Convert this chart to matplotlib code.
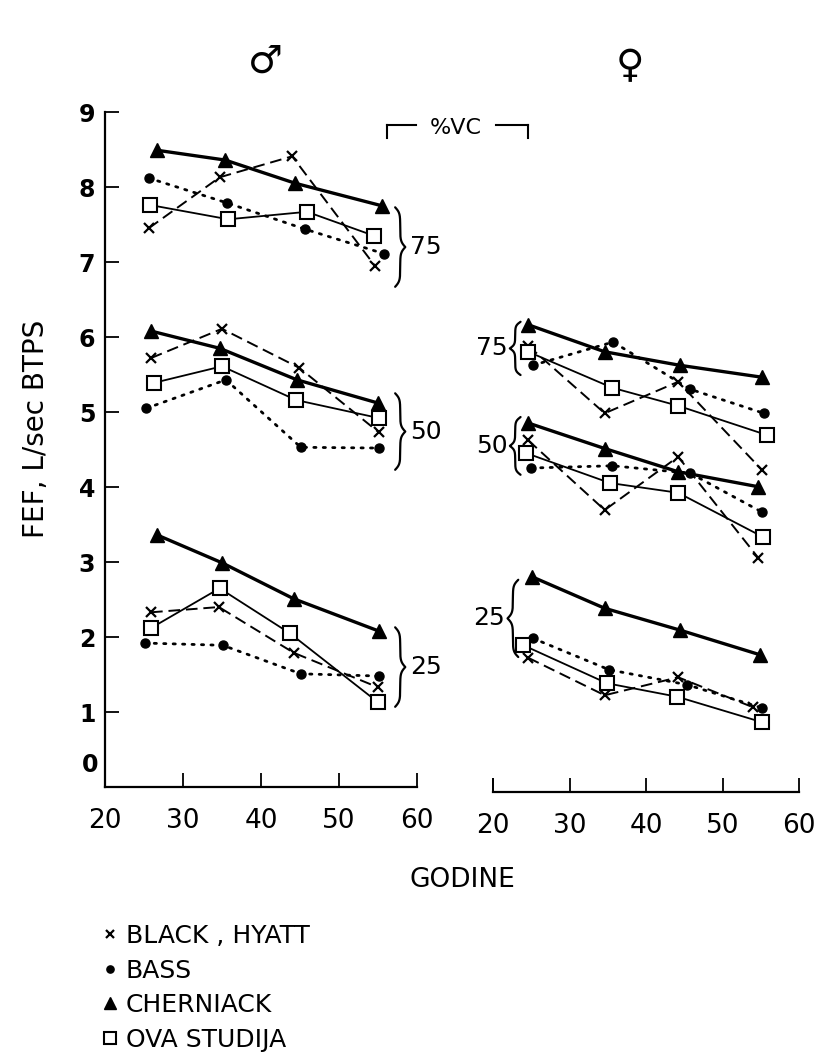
import numpy as np
import matplotlib
matplotlib.use("Agg")
import matplotlib.pyplot as plt
from matplotlib.lines import Line2D

plt.rcParams['font.family'] = ['DejaVu Sans']

# %VC groups drawn in each panel (rows of the arrays below)
groups = ['75', '50', '25']

# ---- muskarci (lijevo) ----
m_black_age = [[25.6, 34.7, 44.0, 54.6], [25.9, 35.0, 44.9, 55.1], [25.9, 34.6, 44.2, 55.0]]
m_black_fef = [[7.45, 8.13, 8.41, 6.95], [5.72, 6.11, 5.59, 4.73], [2.33, 2.40, 1.79, 1.33]]
m_bass_age = [[25.6, 35.6, 45.6, 55.8], [25.3, 35.5, 45.1, 55.1], [25.1, 35.1, 45.1, 55.1]]
m_bass_fef = [[8.12, 7.79, 7.44, 7.11], [5.05, 5.43, 4.53, 4.52], [1.92, 1.89, 1.51, 1.48]]
m_chern_age = [[26.7, 35.4, 44.4, 55.5], [25.9, 34.7, 44.6, 55.0], [26.7, 35.0, 44.2, 55.1]]
m_chern_fef = [[8.49, 8.36, 8.05, 7.75], [6.08, 5.85, 5.43, 5.12], [3.36, 2.99, 2.51, 2.08]]
m_ova_age = [[25.8, 35.8, 45.9, 54.5], [26.3, 35.0, 44.5, 55.1], [25.9, 34.7, 43.7, 55.0]]
m_ova_fef = [[7.76, 7.57, 7.67, 7.35], [5.39, 5.61, 5.16, 4.92], [2.12, 2.65, 2.05, 1.13]]

# ---- zene (desno) ----
f_black_age = [[24.6, 34.6, 44.2, 55.2], [24.6, 34.6, 44.2, 54.7], [24.6, 34.6, 44.2, 54.0]]
f_black_fef = [[5.95, 5.05, 5.47, 4.29], [4.69, 3.76, 4.47, 3.12], [1.79, 1.29, 1.53, 1.13]]
f_bass_age = [[25.2, 35.7, 45.8, 55.4], [25.0, 35.6, 45.8, 55.2], [25.2, 35.2, 45.4, 55.2]]
f_bass_fef = [[5.69, 6.00, 5.37, 5.05], [4.32, 4.35, 4.25, 3.73], [2.05, 1.63, 1.43, 1.12]]
f_chern_age = [[24.6, 34.6, 44.4, 55.2], [24.6, 34.6, 44.2, 54.7], [25.1, 34.6, 44.4, 54.9]]
f_chern_fef = [[6.23, 5.87, 5.69, 5.53], [4.92, 4.58, 4.27, 4.07], [2.87, 2.45, 2.16, 1.83]]
f_ova_age = [[24.6, 35.6, 44.2, 55.8], [24.3, 35.3, 44.2, 55.3], [23.9, 34.9, 44.1, 55.2]]
f_ova_fef = [[5.87, 5.39, 5.15, 4.76], [4.52, 4.12, 3.99, 3.40], [1.96, 1.45, 1.27, 0.93]]

# zagrade: (x, y_dolje, y_gore)
m_braces = [(57.2, 6.67, 7.73), (57.2, 4.23, 5.25), (57.2, 1.07, 2.13)]
f_braces = [(23.6, 5.56, 6.27), (23.6, 4.23, 5.00), (23.3, 1.80, 2.83)]

x_ticks = [20, 30, 40, 50, 60]
y_ticks = list(range(0, 10))

legend_labels = ['BLACK , HYATT', 'BASS', 'CHERNIACK', 'OVA STUDIJA']

styles = {
    'black': dict(color='k', lw=1.4, ls=(0, (6, 3)), marker='x', ms=7, mew=1.6),
    'bass': dict(color='k', lw=2.0, ls=(0, (0.8, 2.6)), marker='o', ms=6.5, dash_capstyle='round'),
    'chern': dict(color='k', lw=2.4, ls='-', marker='^', ms=10),
    'ova': dict(color='k', lw=1.3, ls='-', marker='s', ms=10, mfc='white', mew=1.5),
}


def brace(ax, x, y0, y1, w):
    # w > 0 -> vrh zagrade desno, w < 0 -> lijevo
    s = np.linspace(0, 1, 120)
    k = 14
    f = 0.5 / (1 + np.exp(-k * s)) + 0.5 / (1 + np.exp(-k * (s - 1)))
    f = (f - f[0]) / (f[-1] - f[0])
    ym = (y0 + y1) / 2
    xs = np.concatenate([x + w * f, x + w * f[::-1]])
    ys = np.concatenate([y1 - (y1 - ym) * s, ym - (ym - y0) * s])
    ax.plot(xs, ys, color='k', lw=1.6, clip_on=False, solid_capstyle='round')


fig = plt.figure(figsize=(8.21, 10.59), dpi=100)
axm = fig.add_axes([0.1279, 0.2568, 0.3800, 0.6374])
axf = fig.add_axes([0.6005, 0.2521, 0.3727, 0.6374])

panels = [
    (axm, [(m_black_age, m_black_fef, 'black'), (m_bass_age, m_bass_fef, 'bass'),
           (m_chern_age, m_chern_fef, 'chern'), (m_ova_age, m_ova_fef, 'ova')]),
    (axf, [(f_black_age, f_black_fef, 'black'), (f_bass_age, f_bass_fef, 'bass'),
           (f_chern_age, f_chern_fef, 'chern'), (f_ova_age, f_ova_fef, 'ova')]),
]

for ax, series in panels:
    for age, fef, key in series:
        for g in range(len(groups)):
            ax.plot(age[g], fef[g], clip_on=False, **styles[key])
    ax.set_xlim(20, 60)
    ax.set_ylim(0, 9)
    ax.set_xticks(x_ticks)
    ax.set_xticklabels([str(v) for v in x_ticks], fontsize=19)
    ax.tick_params(axis='x', direction='in', length=10, width=1.3, pad=15)
    for sp in ['top', 'right']:
        ax.spines[sp].set_visible(False)
    ax.spines['bottom'].set_linewidth(1.6)

# lijeva os y
axm.spines['left'].set_linewidth(1.6)
axm.set_yticks(y_ticks)
axm.set_yticklabels([''] + [str(v) for v in y_ticks[1:]], fontsize=17, fontweight='bold')
axm.tick_params(axis='y', direction='in', length=10, width=1.3, pad=7)
axm.text(-0.02, 0.3, '0', transform=axm.get_yaxis_transform(), ha='right', va='center',
         fontsize=17, fontweight='bold')
axm.set_ylabel('FEF, L/sec BTPS', fontsize=20)
axm.yaxis.set_label_coords(-0.175, 0.53)

# desna ploca: samo os x
axf.spines['left'].set_visible(False)
axf.set_yticks([])
axf.plot([20, 20], [0, 0.18], color='k', lw=1.3, clip_on=False)

# zagrade i oznake
for (x, y0, y1), lab in zip(m_braces, groups):
    brace(axm, x, y0, y1, 1.3)
    axm.text(x + 1.9, (y0 + y1) / 2, lab, fontsize=18, ha='left', va='center')
for (x, y0, y1), lab in zip(f_braces, groups):
    brace(axf, x, y0, y1, -1.4)
    axf.text(x - 1.7, (y0 + y1) / 2, lab, fontsize=18, ha='right', va='center')

# %VC
fig.text(0.555, 1 - 128 / 1059, '%VC', fontsize=16, ha='center', va='center')
for xa, xb, xt in [(387, 416, 387), (496, 528, 528)]:
    fig.add_artist(Line2D([xa / 821, xb / 821], [1 - 125 / 1059] * 2, color='k', lw=1.5))
    fig.add_artist(Line2D([xt / 821, xt / 821], [1 - 125 / 1059, 1 - 138 / 1059], color='k', lw=1.5))

# spol
fig.text(265 / 821, 1 - 62 / 1059, '\u2642', fontsize=28, ha='center', va='center')
fig.text(630 / 821, 1 - 66 / 1059, '\u2640', fontsize=28, ha='center', va='center')

fig.text(462 / 821, 1 - 880 / 1059, 'GODINE', fontsize=19, ha='center', va='center')

handles = [Line2D([], [], linestyle='none', color='k', marker=styles[k]['marker'],
                  ms=styles[k]['ms'] * 0.8, mew=styles[k].get('mew', 1.0),
                  mfc=styles[k].get('mfc', 'k'))
           for k in ['black', 'bass', 'chern', 'ova']]
fig.legend(handles, legend_labels, loc='upper left', bbox_to_anchor=(92 / 821, 1 - 914 / 1059),
           frameon=False, fontsize=18, handlelength=0.6, handletextpad=0.35, labelspacing=0.42,
           borderaxespad=0)

fig.savefig('out.png', dpi=100)
